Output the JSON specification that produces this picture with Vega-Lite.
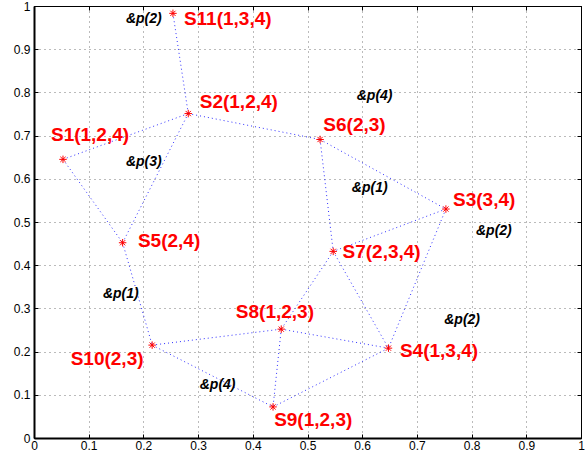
{
  "$schema": "https://vega.github.io/schema/vega-lite/v6.json",
  "width": 547,
  "height": 432,
  "autosize": {"type": "none"},
  "padding": {"left": 34, "top": 6, "right": 5, "bottom": 17},
  "background": "white",
  "config": {
    "view": {"stroke": "black", "strokeWidth": 1},
    "axis": {
      "labelFont": "Liberation Sans",
      "labelFontSize": 12,
      "labelColor": "black",
      "tickColor": "black",
      "domainColor": "black",
      "title": null
    }
  },
  "datasets": {
    "points": [
      {"id": "S1", "x": 0.053, "y": 0.645},
      {"id": "S2", "x": 0.282, "y": 0.751},
      {"id": "S3", "x": 0.753, "y": 0.530},
      {"id": "S4", "x": 0.648, "y": 0.208},
      {"id": "S5", "x": 0.162, "y": 0.452},
      {"id": "S6", "x": 0.523, "y": 0.691},
      {"id": "S7", "x": 0.547, "y": 0.432},
      {"id": "S8", "x": 0.452, "y": 0.252},
      {"id": "S9", "x": 0.437, "y": 0.072},
      {"id": "S10", "x": 0.216, "y": 0.215},
      {"id": "S11", "x": 0.254, "y": 0.983}
    ],
    "edges": [
      {"from": "S11", "to": "S2"},
      {"from": "S1", "to": "S2"},
      {"from": "S2", "to": "S6"},
      {"from": "S1", "to": "S5"},
      {"from": "S2", "to": "S5"},
      {"from": "S5", "to": "S10"},
      {"from": "S6", "to": "S3"},
      {"from": "S6", "to": "S7"},
      {"from": "S3", "to": "S7"},
      {"from": "S3", "to": "S4"},
      {"from": "S7", "to": "S4"},
      {"from": "S7", "to": "S8"},
      {"from": "S8", "to": "S4"},
      {"from": "S9", "to": "S4"},
      {"from": "S10", "to": "S8"},
      {"from": "S10", "to": "S9"},
      {"from": "S8", "to": "S9"}
    ],
    "labels": [
      {"text": "S11(1,3,4)", "x": 0.274, "y": 0.970, "kind": "s"},
      {"text": "S2(1,2,4)", "x": 0.303, "y": 0.778, "kind": "s"},
      {"text": "S1(1,2,4)", "x": 0.031, "y": 0.701, "kind": "s"},
      {"text": "S6(2,3)", "x": 0.529, "y": 0.724, "kind": "s"},
      {"text": "S3(3,4)", "x": 0.766, "y": 0.551, "kind": "s"},
      {"text": "S5(2,4)", "x": 0.190, "y": 0.456, "kind": "s"},
      {"text": "S8(1,2,3)", "x": 0.369, "y": 0.292, "kind": "s"},
      {"text": "S10(2,3)", "x": 0.067, "y": 0.182, "kind": "s"},
      {"text": "S9(1,2,3)", "x": 0.439, "y": 0.041, "kind": "s"},
      {"text": "S7(2,3,4)", "x": 0.564, "y": 0.431, "kind": "s"},
      {"text": "S4(1,3,4)", "x": 0.669, "y": 0.201, "kind": "s"},
      {"text": "&p(2)", "x": 0.168, "y": 0.970, "kind": "p"},
      {"text": "&p(3)", "x": 0.168, "y": 0.639, "kind": "p"},
      {"text": "&p(4)", "x": 0.590, "y": 0.792, "kind": "p"},
      {"text": "&p(1)", "x": 0.581, "y": 0.578, "kind": "p"},
      {"text": "&p(2)", "x": 0.808, "y": 0.479, "kind": "p"},
      {"text": "&p(1)", "x": 0.126, "y": 0.333, "kind": "p"},
      {"text": "&p(4)", "x": 0.303, "y": 0.122, "kind": "p"},
      {"text": "&p(2)", "x": 0.750, "y": 0.273, "kind": "p"}
    ]
  },
  "layer": [
    {
      "data": {"name": "edges"},
      "transform": [
        {"lookup": "from", "from": {"data": {"name": "points"}, "key": "id", "fields": ["x", "y"]}, "as": ["x1", "y1"]},
        {"lookup": "to", "from": {"data": {"name": "points"}, "key": "id", "fields": ["x", "y"]}, "as": ["x2", "y2"]}
      ],
      "mark": {"type": "rule", "color": "#3030ff", "strokeWidth": 1, "strokeDash": [1, 3]},
      "encoding": {
        "x": {"field": "x1", "type": "quantitative", "scale": {"domain": [0, 1], "nice": false, "zero": false},
          "axis": {"orient": "bottom", "values": [0, 0.1, 0.2, 0.3, 0.4, 0.5, 0.6, 0.7, 0.8, 0.9, 1], "format": "~g", "tickSize": -4, "labelPadding": 6, "grid": true, "gridColor": "#555", "gridDash": [1, 4], "gridOpacity": 0.8, "domainWidth": 2, "labelFlush": false}},
        "y": {"field": "y1", "type": "quantitative", "scale": {"domain": [0, 1], "nice": false, "zero": false},
          "axis": {"orient": "left", "values": [0, 0.1, 0.2, 0.3, 0.4, 0.5, 0.6, 0.7, 0.8, 0.9, 1], "format": "~g", "tickSize": -4, "labelPadding": 8, "grid": true, "gridColor": "#555", "gridDash": [1, 4], "gridOpacity": 0.8, "domainWidth": 2, "labelFlush": false}},
        "x2": {"field": "x2"},
        "y2": {"field": "y2"}
      }
    },
    {
      "data": {"name": "points"},
      "mark": {"type": "point", "shape": "M-1,0L1,0M0,-1L0,1M-0.7,-0.7L0.7,0.7M-0.7,0.7L0.7,-0.7", "size": 56, "filled": false, "stroke": "#ff0000", "strokeWidth": 1, "opacity": 1},
      "encoding": {
        "x": {"field": "x", "type": "quantitative", "scale": {"domain": [0, 1], "nice": false, "zero": false},
          "axis": {"orient": "top", "values": [0, 0.1, 0.2, 0.3, 0.4, 0.5, 0.6, 0.7, 0.8, 0.9, 1], "labels": false, "tickSize": -4, "grid": false}},
        "y": {"field": "y", "type": "quantitative", "scale": {"domain": [0, 1], "nice": false, "zero": false},
          "axis": {"orient": "right", "values": [0, 0.1, 0.2, 0.3, 0.4, 0.5, 0.6, 0.7, 0.8, 0.9, 1], "labels": false, "tickSize": -4, "grid": false}}
      }
    },
    {
      "data": {"name": "labels"},
      "transform": [{"filter": "datum.kind == 's'"}],
      "mark": {"type": "text", "align": "left", "baseline": "middle", "font": "Liberation Sans", "fontWeight": "bold", "fontSize": 19, "color": "#ff0000"},
      "encoding": {
        "x": {"field": "x", "type": "quantitative", "axis": null},
        "y": {"field": "y", "type": "quantitative", "axis": null},
        "text": {"field": "text"}
      }
    },
    {
      "data": {"name": "labels"},
      "transform": [{"filter": "datum.kind == 'p'"}],
      "mark": {"type": "text", "align": "left", "baseline": "middle", "font": "Liberation Sans", "fontWeight": "bold", "fontStyle": "italic", "fontSize": 14, "color": "black"},
      "encoding": {
        "x": {"field": "x", "type": "quantitative", "axis": null},
        "y": {"field": "y", "type": "quantitative", "axis": null},
        "text": {"field": "text"}
      }
    }
  ],
  "resolve": {"axis": {"x": "independent", "y": "independent"}}
}
